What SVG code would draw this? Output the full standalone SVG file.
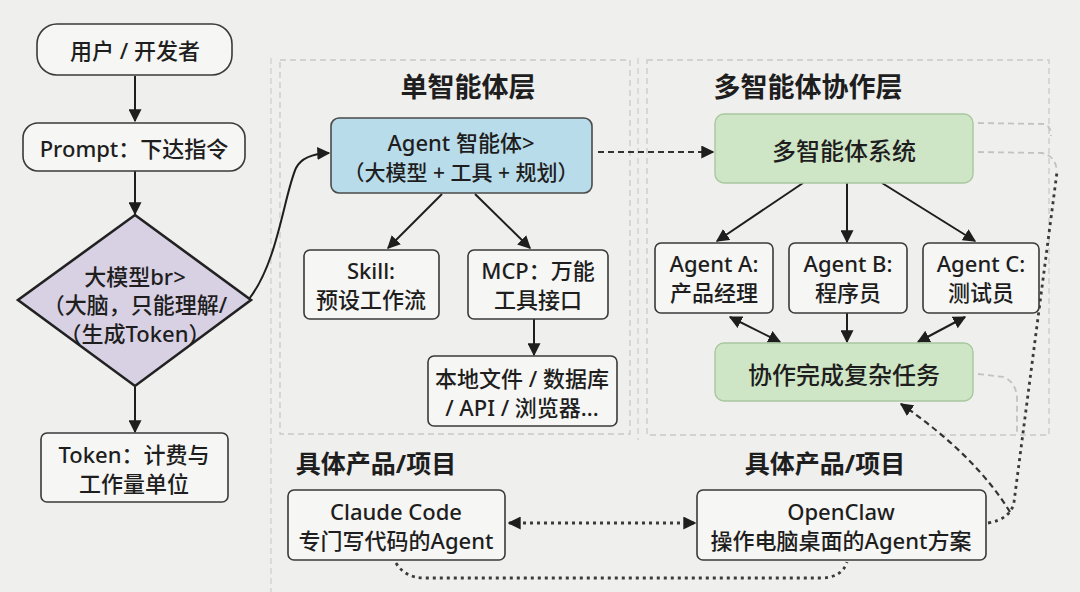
<svg xmlns="http://www.w3.org/2000/svg" width="1080" height="592" viewBox="0 0 1080 592">
<defs>
<style>
text{font-family:"Noto Sans","Noto Sans CJK SC",sans-serif;fill:#1e1e1e;text-anchor:middle;dominant-baseline:central;font-weight:500}
.t{font-size:22px}
.t2{font-size:21px}
.title{font-size:27px;font-weight:700}
.sub{font-size:25px;font-weight:700}
.big{font-size:24px}
.box{fill:#f6f6f4;stroke:#3a3a3a;stroke-width:1.6}
.blue{fill:#b9dcea;stroke:#4a4a4a;stroke-width:1.6}
.green{fill:#cfe6c6;stroke:#a8c89e;stroke-width:1.4}
.panel{fill:none;stroke:#c9c9c9;stroke-width:1.3;stroke-dasharray:6 4}
.faint{fill:none;stroke:#cfcfcf;stroke-width:1.3;stroke-dasharray:6 4}
.ln{fill:none;stroke:#1e1e1e;stroke-width:2}
.dash{fill:none;stroke:#333;stroke-width:2.2;stroke-dasharray:6 4}
.dot{fill:none;stroke:#3a3a3a;stroke-width:2.8;stroke-dasharray:3 4}
.gdash{fill:none;stroke:#c2c2c2;stroke-width:1.8;stroke-dasharray:6 4}
</style>
<marker id="ah2" viewBox="0 0 10 10" refX="9" refY="5" markerWidth="13" markerHeight="13" orient="auto-start-reverse" markerUnits="userSpaceOnUse">
<path d="M0,0 L10,5 L0,10 z" fill="#1e1e1e"/>
</marker>
</defs>
<rect width="1080" height="592" fill="#efefed"/>

<g id="panels">
<line class="faint" x1="271" y1="58" x2="271" y2="592"/>
<line class="faint" x1="638" y1="58" x2="638" y2="440"/>
<rect class="panel" x="280" y="60" width="350" height="374"/>
<rect class="panel" x="647" y="60" width="402" height="375"/>
<text class="title" x="468" y="86">单智能体层</text>
<text class="title" x="808" y="86">多智能体协作层</text>
<text class="sub" x="376" y="463">具体产品/项目</text>
<text class="sub" x="825" y="463">具体产品/项目</text>
</g>

<g id="connectors">
<line class="ln" x1="135" y1="76" x2="135" y2="121" marker-end="url(#ah2)"/>
<line class="ln" x1="135" y1="171" x2="135" y2="214" marker-end="url(#ah2)"/>
<line class="ln" x1="135" y1="387" x2="135" y2="432" marker-end="url(#ah2)"/>
<path class="ln" d="M249,299 C278,262 284,195 296,168 Q303,154 329,153" marker-end="url(#ah2)"/>
<line class="ln" x1="442" y1="194" x2="388" y2="248" marker-end="url(#ah2)"/>
<line class="ln" x1="475" y1="194" x2="530" y2="248" marker-end="url(#ah2)"/>
<line class="ln" x1="534" y1="319" x2="534" y2="355" marker-end="url(#ah2)"/>
<line class="dash" x1="598" y1="152" x2="713" y2="152" marker-end="url(#ah2)"/>
<line class="ln" x1="803" y1="183" x2="717" y2="241" marker-end="url(#ah2)"/>
<line class="ln" x1="847" y1="183" x2="847" y2="242" marker-end="url(#ah2)"/>
<line class="ln" x1="882" y1="183" x2="975" y2="241" marker-end="url(#ah2)"/>
<line class="ln" x1="730" y1="317" x2="780" y2="342" marker-start="url(#ah2)" marker-end="url(#ah2)"/>
<line class="ln" x1="847" y1="313" x2="847" y2="342" marker-end="url(#ah2)"/>
<line class="ln" x1="965" y1="317" x2="918" y2="342" marker-start="url(#ah2)" marker-end="url(#ah2)"/>
<path class="gdash" d="M978,123 L1044,124 Q1051,126 1051,136"/>
<path class="gdash" d="M978,152 L1042,153 Q1056,156 1057,172"/>
<path class="gdash" d="M978,374 L1004,377 Q1017,383 1017,400 L1017,434"/>
<path class="dot" d="M988,523 Q1011,519 1014,502 L1057,172"/>
<path class="dash" d="M1010,512 Q975,455 901,404" marker-end="url(#ah2)"/>
<line class="dot" x1="509" y1="523" x2="695" y2="523" marker-start="url(#ah2)" marker-end="url(#ah2)"/>
<path class="dot" d="M396,563 Q405,578 425,578 L820,578 Q842,578 847,562"/>
</g>

<g id="n-user">
<rect class="box" x="37" y="24" width="195" height="51" rx="20"/>
<text class="t" x="135" y="50">用户 / 开发者</text>
</g>
<g id="n-prompt">
<rect class="box" x="23" y="123" width="222" height="48" rx="15"/>
<text class="t" x="134" y="148">Prompt：下达指令</text>
</g>
<g id="n-llm">
<polygon points="135,215 251,300 135,386 18,300" fill="#d8d0e3" stroke="#222" stroke-width="2.6"/>
<text class="t" x="135" y="276">大模型br&gt;</text>
<text class="t" x="135" y="304">（大脑，只能理解/</text>
<text class="t" x="135" y="333">（生成Token）</text>
</g>
<g id="n-token">
<rect class="box" x="41" y="433" width="187" height="69" rx="6"/>
<text class="t" x="134" y="454">Token：计费与</text>
<text class="t" x="134" y="483">工作量单位</text>
</g>

<g id="n-agent">
<rect class="blue" x="331" y="118" width="261" height="75" rx="8"/>
<text class="t" x="461" y="142">Agent 智能体&gt;</text>
<text class="t2" x="461" y="172">（大模型 + 工具 + 规划）</text>
</g>
<g id="n-skill">
<rect class="box" x="304" y="250" width="135" height="69" rx="6"/>
<text class="t" x="371" y="270">Skill:</text>
<text class="t" x="371" y="299">预设工作流</text>
</g>
<g id="n-mcp">
<rect class="box" x="468" y="250" width="140" height="69" rx="6"/>
<text class="t" x="538" y="270">MCP：万能</text>
<text class="t" x="538" y="299">工具接口</text>
</g>
<g id="n-local">
<rect class="box" x="428" y="356" width="189" height="70" rx="6"/>
<text class="t" x="522" y="378">本地文件 / 数据库</text>
<text class="t" x="522" y="407">/ API / 浏览器...</text>
</g>

<g id="n-multi">
<rect class="green" x="715" y="114" width="258" height="69" rx="9"/>
<text class="big" x="844" y="150">多智能体系统</text>
</g>
<g id="n-a">
<rect class="box" x="655" y="243" width="118" height="70" rx="6"/>
<text class="t" x="714" y="263">Agent A:</text>
<text class="t" x="714" y="292">产品经理</text>
</g>
<g id="n-b">
<rect class="box" x="789" y="243" width="118" height="70" rx="6"/>
<text class="t" x="848" y="263">Agent B:</text>
<text class="t" x="848" y="292">程序员</text>
</g>
<g id="n-c">
<rect class="box" x="923" y="243" width="116" height="70" rx="6"/>
<text class="t" x="981" y="263">Agent C:</text>
<text class="t" x="981" y="292">测试员</text>
</g>
<g id="n-collab">
<rect class="green" x="715" y="343" width="258" height="58" rx="9"/>
<text class="big" x="844" y="374">协作完成复杂任务</text>
</g>

<g id="n-claude">
<rect class="box" x="288" y="490" width="217" height="70" rx="6"/>
<text class="t" x="396" y="511">Claude Code</text>
<text class="t" x="396" y="540">专门写代码的Agent</text>
</g>
<g id="n-openclaw">
<rect class="box" x="697" y="490" width="289" height="70" rx="6"/>
<text class="t" x="841" y="511">OpenClaw</text>
<text class="t" x="841" y="540">操作电脑桌面的Agent方案</text>
</g>
</svg>
